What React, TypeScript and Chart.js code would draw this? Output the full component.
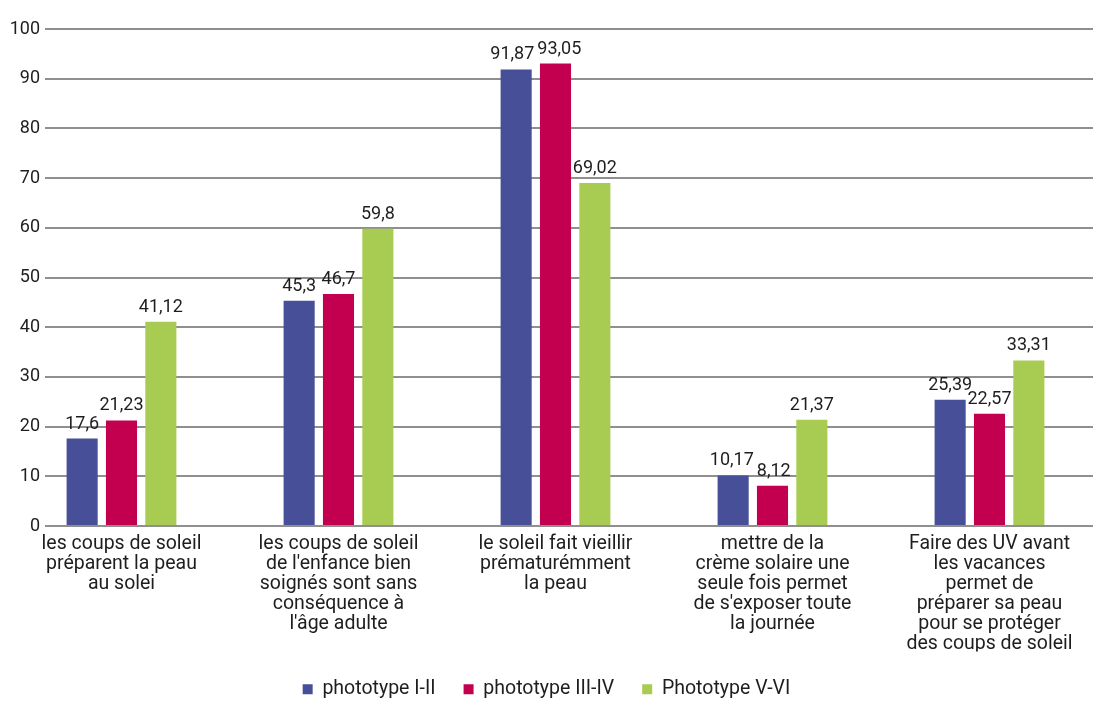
import React, { useEffect, useRef } from "react";
import { Chart, registerables } from "chart.js";

Chart.register(...registerables);

// ---- data ----
const categories: string[][] = [
  ["les coups de soleil", "préparent la peau", "au solei"],
  ["les coups de soleil", "de l'enfance bien", "soignés sont sans", "conséquence à", "l'âge adulte"],
  ["le soleil fait vieillir", "prématurémment", "la peau"],
  ["mettre de la", "crème solaire une", "seule fois permet", "de s'exposer toute", "la journée"],
  ["Faire des UV avant", "les vacances", "permet de", "préparer sa peau", "pour se protéger", "des coups de soleil"],
];
const seriesNames = ["phototype I-II", "phototype III-IV", "Phototype V-VI"];
const phototypeI_II = [17.6, 45.3, 91.87, 10.17, 25.39];
const phototypeIII_IV = [21.23, 46.7, 93.05, 8.12, 22.57];
const phototypeV_VI = [41.12, 59.8, 69.02, 21.37, 33.31];
const yMin = 0;
const yMax = 100;
const yStep = 10;

const seriesColors = ["#464F97", "#C3004F", "#A8CC52"];
const FONT = "Roboto, 'Open Sans', sans-serif";
const TEXT = "#1e1e1e";
const NUM_SIZE = 18;
const TXT_SIZE = 19.5;

const fmt = (v: number) => String(v).replace(".", ",");

const valueLabels = {
  id: "valueLabels",
  afterDatasetsDraw(chart: any) {
    const ctx = chart.ctx;
    ctx.save();
    ctx.font = `${NUM_SIZE}px ${FONT}`;
    ctx.fillStyle = TEXT;
    ctx.textAlign = "center";
    ctx.textBaseline = "alphabetic";
    for (let i = 0; i < categories.length; i++) {
      const items = chart.data.datasets.map((ds: any, d: number) => {
        const el = chart.getDatasetMeta(d).data[i];
        const text = fmt(ds.data[i].y);
        return { x: el.x, y: el.y - 10, w: ctx.measureText(text).width, text };
      });
      for (let pass = 0; pass < 3; pass++) {
        for (let k = 1; k < items.length; k++) {
          const a = items[k - 1];
          const b = items[k];
          const overlap = a.x + a.w / 2 + 3 - (b.x - b.w / 2);
          if (overlap > 0 && Math.abs(a.y - b.y) < 13) {
            a.x -= overlap / 2;
            b.x += overlap / 2;
          }
        }
      }
      items.forEach((it: any) => ctx.fillText(it.text, it.x, it.y));
    }
    ctx.restore();
  },
};

export default function App() {
  const ref = useRef<HTMLCanvasElement | null>(null);

  useEffect(() => {
    if (!ref.current) return;
    const series = [phototypeI_II, phototypeIII_IV, phototypeV_VI];
    const chart = new Chart(ref.current, {
      type: "bar",
      data: {
        datasets: series.map((vals, s) => ({
          label: seriesNames[s],
          data: vals.map((v, i) => ({ x: i, y: v })),
          backgroundColor: seriesColors[s],
          borderWidth: 0,
          categoryPercentage: 0.544,
          barPercentage: 0.79,
        })),
      },
      options: {
        animation: false,
        responsive: true,
        maintainAspectRatio: false,
        layout: { padding: { top: 29, right: 5, left: 0, bottom: -5 } },
        plugins: {
          tooltip: { enabled: false },
          legend: {
            position: "bottom",
            labels: {
              boxWidth: 10,
              boxHeight: 10,
              padding: 28,
              color: TEXT,
              font: { family: FONT, size: TXT_SIZE },
            },
          },
        },
        scales: {
          x: {
            type: "linear",
            offset: false,
            min: -0.3525,
            max: 4.477,
            grid: { display: false, offset: false },
            border: { display: false },
            ticks: {
              stepSize: 1,
              includeBounds: false,
              autoSkip: false,
              maxRotation: 0,
              padding: 0,
              color: TEXT,
              font: { family: FONT, size: TXT_SIZE, lineHeight: 20 / TXT_SIZE },
              callback: (v: any) => (Number.isInteger(v) && categories[v] ? categories[v] : ""),
            },
            afterFit: (s: any) => {
              s.height = 125.5;
              s.paddingLeft = 0;
              s.paddingRight = 0;
            },
          },
          y: {
            min: yMin,
            max: yMax,
            border: { display: false },
            grid: { color: "#8f8f8f", lineWidth: 2, drawTicks: false },
            ticks: {
              stepSize: yStep,
              padding: 5,
              color: TEXT,
              font: { family: FONT, size: NUM_SIZE },
            },
            afterFit: (s: any) => {
              s.width = 45;
            },
          },
        },
      },
      plugins: [valueLabels],
    } as any);
    return () => chart.destroy();
  }, []);

  return (
    <div style={{ position: "absolute", left: 0, top: 0, width: 1098, height: 704, background: "#fff" }}>
      <canvas ref={ref} />
    </div>
  );
}
